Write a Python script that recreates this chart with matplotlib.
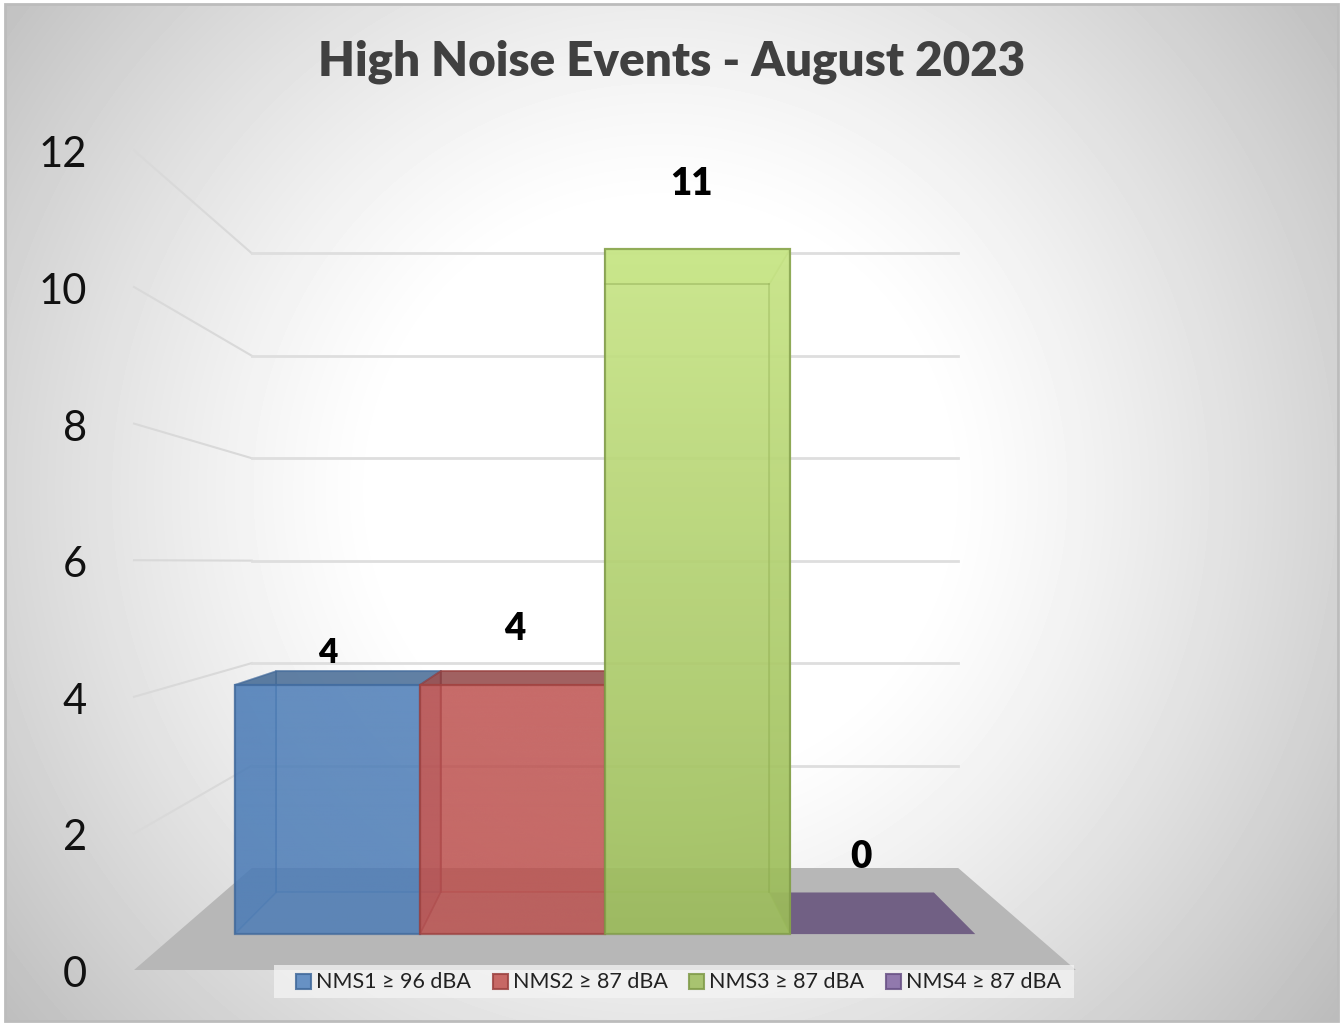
import numpy as np
import matplotlib
matplotlib.use("Agg")
import matplotlib.pyplot as plt
from matplotlib.patches import Polygon, Rectangle
from matplotlib.colors import to_rgb

# --- DATA ---
title = "High Noise Events - August 2023"
categories = ["NMS1 ≥ 96 dBA", "NMS2 ≥ 87 dBA", "NMS3 ≥ 87 dBA", "NMS4 ≥ 87 dBA"]
values = [4, 4, 11, 0]
y_ticks = [0, 2, 4, 6, 8, 10, 12]

# --- STYLE ---
face_colors = ["#4f81bd", "#c0504d", "#9bbb59", "#8064a2"]
edge_colors = ["#41699b", "#9c4240", "#7f9a48", "#695285"]
top_colors = ["#3f6590", "#8c3f3f", "#c8e88a", "#604a78"]
# front face colour and alpha, at the top of the bar and at its foot
front_top = ["#4a7bb6", "#bb4c49", "#c9e688", "#8064a2"]
front_foot = ["#4a7bb6", "#bb4c49", "#9bbb59", "#8064a2"]
front_alpha = [(0.82, 0.82), (0.8, 0.8), (0.92, 0.9), (0.8, 0.8)]
top_alpha = [0.8, 0.8, 0.6, 0.8]
bar_z = [2, 3, 4, 1.5]
label_pos = [(328, 653, 24), (515, 629, 26.5), (691, 184, 26.5), (861, 857, 26.5)]
legend_swatch_x = [296, 493, 689, 886]

plt.rcParams["font.family"] = ["Lato", "DejaVu Sans"]

# perspective of the 3D box, in pixels of the output
vx, vy = 605, 562
x0, cat_w = 199, 203
base_y, unit = 970, 68.3
wall_s = 0.75
bar_front_s, bar_back_s = 0.912, 0.81
wall_l, wall_r = -0.32, 4.32


def project(cat, value, s=1.0):
    x = x0 + cat * cat_w
    y = base_y - value * unit
    return vx + (x - vx) * s, vy + (y - vy) * s


fig = plt.figure(figsize=(13.4, 10.23), dpi=100, facecolor="white")
ax = fig.add_axes([0, 0, 1, 1])
ax.set_xlim(0, 1340)
ax.set_ylim(1023, 0)
ax.set_autoscale_on(False)
ax.axis("off")

# --- BACKGROUND ---
frame = Rectangle((5, 4), 1333, 1017, fc="none", ec="#bcbcbc", lw=2, zorder=9)
ax.add_patch(frame)
xx, yy = np.meshgrid(np.arange(5, 1338), np.arange(4, 1021))
r = np.hypot(xx - 660, yy - 490)
shade = 1 - 0.255 * np.clip((r - 280) / 560, 0, None) ** 1.2
ax.imshow(shade, cmap="gray", vmin=0, vmax=1, extent=(5, 1338, 1021, 4),
          aspect="auto", zorder=0)

# --- WALLS AND FLOOR ---
for v in y_ticks[1:]:
    ax.plot(*zip(project(wall_l, v), project(wall_l, v, wall_s)), color="#d9d9d9", lw=1.5, zorder=1)
    ax.plot(*zip(project(wall_l, v, wall_s), project(wall_r, v, wall_s)), color="#dedede", lw=2, zorder=1)
floor = [project(wall_l, 0), project(wall_r, 0), project(wall_r, 0, wall_s), project(wall_l, 0, wall_s)]
ax.add_patch(Polygon(floor, fc="#b7b7b7", ec="none", zorder=1))


# --- BARS ---
def face(points, fc, alpha, ec, z, lw=1.2):
    edge = to_rgb(ec) + (0.45,) if ec != "none" else "none"
    ax.add_patch(Polygon(points, closed=True, fc=to_rgb(fc) + (alpha,), ec=edge, lw=lw, zorder=z))


for i, v in enumerate(values):
    z = bar_z[i]
    fc, ec = face_colors[i], edge_colors[i]
    l, r_ = i, i + 1
    fs, bs = bar_front_s, bar_back_s
    if v > 0:
        face([project(l, 0, bs), project(r_, 0, bs), project(r_, v, bs), project(l, v, bs)], fc, 0.12, ec, z)
        face([project(l, 0, fs), project(l, 0, bs), project(l, v, bs), project(l, v, fs)], fc, 0.25, ec, z)
        face([project(r_, 0, fs), project(r_, 0, bs), project(r_, v, bs), project(r_, v, fs)], fc, 0.25, ec, z)
    face([project(l, v, fs), project(r_, v, fs), project(r_, v, bs), project(l, v, bs)],
         top_colors[i], top_alpha[i], ec if v > 0 else "none", z)
    if v > 0:
        # front face, colour and alpha run from the top of the bar to its foot
        p0, p1 = project(l, v, fs), project(r_, 0, fs)
        t = np.linspace(0, 1, 256)[:, None]
        rgba = np.zeros((256, 1, 4))
        rgba[:, 0, :3] = (1 - t) * np.array(to_rgb(front_top[i])) + t * np.array(to_rgb(front_foot[i]))
        rgba[:, 0, 3] = np.linspace(front_alpha[i][0], front_alpha[i][1], 256)
        ax.imshow(rgba, extent=(p0[0], p1[0], p1[1], p0[1]), aspect="auto", zorder=z)
        ax.add_patch(Rectangle(p0, p1[0] - p0[0], p1[1] - p0[1], fc="none",
                               ec=to_rgb(ec) + (0.75,), lw=1.6, zorder=z))
        # inner edge of the back face shows through the front
        ax.plot(*zip(project(l, v, bs), project(r_, v, bs)), color=ec, alpha=0.35, lw=1.2, zorder=z)
        ax.plot(*zip(project(r_, v, bs), project(r_, 0, bs)), color=ec, alpha=0.25, lw=1.2, zorder=z)
ax.set_xlim(0, 1340)
ax.set_ylim(1023, 0)

# --- TEXT ---
ax.text(672, 62, title, ha="center", va="center", fontsize=34.2, fontweight="heavy",
        color="#404040", zorder=10)
for v in y_ticks:
    ax.text(87, project(0, v)[1] + 5, str(v), ha="right", va="center", fontsize=30,
            color="#111111", zorder=10)
for v, (lx, ly, size) in zip(values, label_pos):
    ax.text(lx, ly, str(v), ha="center", va="center", fontsize=size, fontweight="heavy",
            color="black", zorder=10)

# --- LEGEND ---
ax.add_patch(Rectangle((274, 965), 800, 33, fc="#f4f4f4", alpha=0.75, ec="none", zorder=8))
for sx, name, fc, ec in zip(legend_swatch_x, categories, face_colors, edge_colors):
    ax.add_patch(Rectangle((sx, 974), 15, 15, fc=fc, alpha=0.85, ec=ec, lw=1.5, zorder=9))
    ax.text(sx + 20, 982.5, name, ha="left", va="center", fontsize=15.5, color="#222222", zorder=10)

fig.savefig("out.png", dpi=100, facecolor="white")
